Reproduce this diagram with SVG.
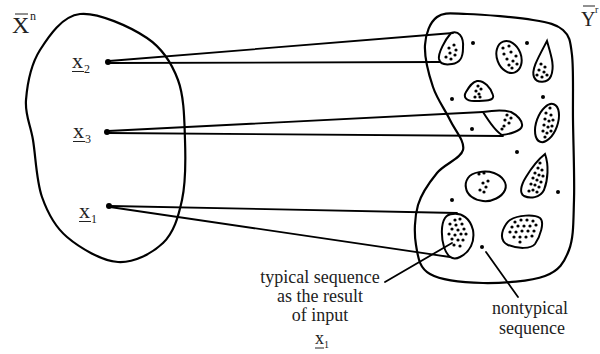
<svg xmlns="http://www.w3.org/2000/svg" width="600" height="354" viewBox="0 0 600 354">
<style>
.o{fill:none;stroke:#000;stroke-width:2.2;stroke-linejoin:round}
.b{fill:none;stroke:#000;stroke-width:2}
.c{stroke:#000;stroke-width:1.8;fill:none;stroke-linecap:round}
.t{font-family:"Liberation Serif","Times New Roman",serif;fill:#222}
.u{stroke:#222;stroke-width:1}
</style>
<rect width="600" height="354" fill="#fff"/>
<g id="set-X">
<path class="o" d="M80,14 C97.8,12 130.7,27 147,38 C163.3,49 171.7,63 178,80 C184.3,97 184.3,120 185,140 C185.7,160 185.7,182.8 182,200 C178.3,217.2 173.7,232.7 163,243 C152.3,253.3 134,263 118,262 C102,261 79.7,247.8 67,237 C54.3,226.2 47.7,213.2 42,197 C36.3,180.8 35.7,156.2 33,140 C30.3,123.8 24.8,115 26,100 C27.2,85 31,64.3 40,50 C49,35.7 62.2,16 80,14 Z"/>
<text class="t" x="12" y="33" font-size="24">X</text>
<line class="u" x1="15" y1="14" x2="28" y2="14"/>
<text class="t" x="30" y="20" font-size="12">n</text>
</g>
<g id="set-Y">
<path class="o" d="M437,17 C444,11.8 451,13.5 467,14 C483,14.5 517,17.3 533,20 C549,22.7 556.5,24.2 563,30 C569.5,35.8 570.3,40 572,55 C573.7,70 572.7,95.8 573,120 C573.3,144.2 574.7,178.3 574,200 C573.3,221.7 573.8,237.3 569,250 C564.2,262.7 559.3,270.5 545,276 C530.7,281.5 502.2,283.3 483,283 C463.8,282.7 441.2,280.3 430,274 C418.8,267.7 418,256.5 416,245 C414,233.5 414.5,217 418,205 C421.5,193 429.5,182.2 437,173 C444.5,163.8 460.8,158.8 463,150 C465.2,141.2 455,130.5 450,120 C445,109.5 437.2,99.5 433,87 C428.8,74.5 424.3,56.7 425,45 C425.7,33.3 430,22.2 437,17 Z"/>
<text class="t" x="581" y="26" font-size="20">Y</text>
<line class="u" x1="583" y1="6" x2="595" y2="6"/>
<text class="t" x="595" y="13" font-size="10">r</text>
</g>
<g id="blobs">
<path class="b" d="M451,33 C458,30 464,36 463,48 C463,58 460,63 452,64 C446,65 440,64 439,59 C438,53 445,40 451,33 Z"/>
<ellipse class="b" cx="509" cy="57" rx="12" ry="16.5" transform="rotate(-21 509 57)"/>
<path class="b" d="M547,41 C551,55 555,66 551,76 C548,83 537,84 534,77 C531,70 538,58 547,41 Z"/>
<path class="b" d="M477,81 C484,80 491,88 493,95 C495,101 485,101 474,101 C466,101 463,97 466,92 C469,87 472,82 477,81 Z"/>
<path class="b" d="M483,112 C495,110 505,110 511,112 C517,115 523,121 522,126 C521,131 510,134 502,135 C495,131 488,120 483,112 Z"/>
<ellipse class="b" cx="547" cy="123" rx="10.5" ry="20" transform="rotate(20 547 123)"/>
<path class="b" d="M545,154 C549,165 548,180 544,190 C540,198 530,199 524,196 C519,193 521,185 526,177 C532,167 540,158 545,154 Z"/>
<path class="b" d="M468,178 C472,172 485,170 494,173 C502,176 508,183 505,190 C502,197 492,202 483,201 C474,200 467,195 466,188 C465,184 466,181 468,178 Z"/>
<path class="b" d="M453,214 C462,213 470,218 473,230 C475,242 470,252 460,257 C452,261 447,256 444,247 C441,237 441,224 445,218 C447,215 450,214 453,214 Z"/>
<path class="b" d="M510,220 C518,215 534,214 540,218 C545,222 540,237 535,244 C531,249 518,249 508,245 C502,242 501,236 503,230 C505,225 507,222 510,220 Z"/>
</g>
<g id="dots" fill="#000">
<g>
<circle cx="449" cy="48" r="1.6"/><circle cx="454" cy="45" r="1.6"/><circle cx="456" cy="50" r="1.6"/><circle cx="450" cy="53" r="1.6"/><circle cx="455" cy="55" r="1.6"/><circle cx="446" cy="57" r="1.6"/><circle cx="451" cy="59" r="1.6"/>
</g>
<g>
<circle cx="503" cy="48" r="1.6"/><circle cx="509" cy="46" r="1.6"/><circle cx="504" cy="54" r="1.6"/><circle cx="511" cy="52" r="1.6"/><circle cx="516" cy="56" r="1.6"/><circle cx="507" cy="59" r="1.6"/><circle cx="513" cy="61" r="1.6"/><circle cx="509" cy="65" r="1.6"/><circle cx="517" cy="64" r="1.6"/><circle cx="512" cy="68" r="1.6"/>
</g>
<g>
<circle cx="541" cy="64" r="1.6"/><circle cx="545" cy="67" r="1.6"/><circle cx="539" cy="70" r="1.6"/><circle cx="544" cy="72" r="1.6"/><circle cx="537" cy="75" r="1.6"/><circle cx="542" cy="77" r="1.6"/><circle cx="547" cy="75" r="1.6"/>
</g>
<g>
<circle cx="478" cy="86" r="1.6"/><circle cx="481" cy="89" r="1.6"/><circle cx="476" cy="91" r="1.6"/><circle cx="479" cy="94" r="1.6"/><circle cx="475" cy="97" r="1.6"/><circle cx="480" cy="97" r="1.6"/>
</g>
<g>
<circle cx="507" cy="115" r="1.6"/><circle cx="511" cy="118" r="1.6"/><circle cx="505" cy="120" r="1.6"/><circle cx="509" cy="123" r="1.6"/><circle cx="504" cy="126" r="1.6"/><circle cx="502" cy="129" r="1.6"/>
</g>
<g>
<circle cx="550" cy="108" r="1.6"/><circle cx="546" cy="113" r="1.6"/><circle cx="551" cy="115" r="1.6"/><circle cx="545" cy="119" r="1.6"/><circle cx="549" cy="121" r="1.6"/><circle cx="553" cy="120" r="1.6"/><circle cx="544" cy="125" r="1.6"/><circle cx="548" cy="127" r="1.6"/><circle cx="552" cy="126" r="1.6"/><circle cx="543" cy="131" r="1.6"/><circle cx="547" cy="133" r="1.6"/><circle cx="551" cy="131" r="1.6"/><circle cx="545" cy="137" r="1.6"/>
</g>
<g>
<circle cx="540" cy="163" r="1.6"/><circle cx="538" cy="168" r="1.6"/><circle cx="542" cy="170" r="1.6"/><circle cx="535" cy="173" r="1.6"/><circle cx="539" cy="175" r="1.6"/><circle cx="543" cy="176" r="1.6"/><circle cx="533" cy="178" r="1.6"/><circle cx="537" cy="180" r="1.6"/><circle cx="541" cy="182" r="1.6"/><circle cx="531" cy="184" r="1.6"/><circle cx="535" cy="185" r="1.6"/><circle cx="539" cy="187" r="1.6"/><circle cx="533" cy="190" r="1.6"/><circle cx="537" cy="192" r="1.6"/><circle cx="529" cy="191" r="1.6"/>
</g>
<g>
<circle cx="479" cy="174" r="1.6"/><circle cx="484" cy="173" r="1.6"/><circle cx="483" cy="183" r="1.6"/><circle cx="488" cy="181" r="1.6"/><circle cx="486" cy="187" r="1.6"/><circle cx="480" cy="190" r="1.6"/><circle cx="484" cy="192" r="1.6"/>
</g>
<g>
<circle cx="455" cy="220" r="1.6"/><circle cx="460" cy="219" r="1.6"/><circle cx="450" cy="224" r="1.6"/><circle cx="456" cy="225" r="1.6"/><circle cx="462" cy="224" r="1.6"/><circle cx="452" cy="229" r="1.6"/><circle cx="458" cy="230" r="1.6"/><circle cx="464" cy="229" r="1.6"/><circle cx="449" cy="234" r="1.6"/><circle cx="455" cy="235" r="1.6"/><circle cx="461" cy="234" r="1.6"/><circle cx="466" cy="234" r="1.6"/><circle cx="452" cy="239" r="1.6"/><circle cx="458" cy="240" r="1.6"/><circle cx="463" cy="240" r="1.6"/><circle cx="454" cy="245" r="1.6"/><circle cx="460" cy="246" r="1.6"/>
</g>
<g>
<circle cx="515" cy="222" r="1.6"/><circle cx="521" cy="220" r="1.6"/><circle cx="527" cy="220" r="1.6"/><circle cx="533" cy="221" r="1.6"/><circle cx="512" cy="227" r="1.6"/><circle cx="518" cy="226" r="1.6"/><circle cx="524" cy="226" r="1.6"/><circle cx="530" cy="226" r="1.6"/><circle cx="536" cy="225" r="1.6"/><circle cx="510" cy="232" r="1.6"/><circle cx="516" cy="232" r="1.6"/><circle cx="522" cy="231" r="1.6"/><circle cx="528" cy="231" r="1.6"/><circle cx="534" cy="231" r="1.6"/><circle cx="514" cy="237" r="1.6"/><circle cx="520" cy="237" r="1.6"/><circle cx="526" cy="237" r="1.6"/><circle cx="532" cy="236" r="1.6"/><circle cx="520" cy="242" r="1.6"/>
</g>
<g id="outside-dots">
<circle cx="473" cy="43" r="2"/><circle cx="527" cy="43" r="2"/><circle cx="452" cy="99" r="2"/><circle cx="543" cy="97" r="2"/><circle cx="472" cy="129" r="2"/><circle cx="517" cy="152" r="2"/><circle cx="452" cy="200" r="2"/><circle cx="558" cy="192" r="2"/><circle cx="482" cy="247" r="2"/>
</g>
</g>
<g id="x2">
<circle cx="108" cy="62" r="3"/>
<text class="t" x="72" y="68" font-size="22">x</text>
<text class="t" x="84" y="73" font-size="12">2</text>
<line class="u" x1="72" y1="71.5" x2="84" y2="71.5"/>
</g>
<g id="x3">
<circle cx="107" cy="132" r="3"/>
<text class="t" x="73" y="138" font-size="22">x</text>
<text class="t" x="85" y="143" font-size="12">3</text>
<line class="u" x1="73" y1="141.5" x2="85" y2="141.5"/>
</g>
<g id="x1">
<circle cx="109" cy="206" r="3"/>
<text class="t" x="79" y="218" font-size="22">x</text>
<text class="t" x="91" y="223" font-size="12">1</text>
<line class="u" x1="79" y1="221.5" x2="91" y2="221.5"/>
</g>
<g id="connectors">
<line class="c" x1="109" y1="61" x2="453" y2="33"/>
<line class="c" x1="109" y1="63" x2="440" y2="62"/>
<line class="c" x1="108" y1="131" x2="483" y2="112"/>
<line class="c" x1="108" y1="133" x2="503" y2="136"/>
<line class="c" x1="110" y1="206" x2="457" y2="213"/>
<line class="c" x1="110" y1="207" x2="450" y2="257"/>
<line class="c" x1="385" y1="282" x2="452" y2="243"/>
<line class="c" x1="486" y1="252" x2="518" y2="297"/>
</g>
<g id="label-typical">
<text class="t" font-size="18" text-anchor="middle"><tspan x="320" y="283">typical sequence</tspan><tspan x="320" y="302">as the result</tspan><tspan x="320" y="321">of input</tspan></text>
<text class="t" x="315" y="344" font-size="18">x</text>
<text class="t" x="324" y="348" font-size="10">1</text>
<line class="u" x1="315" y1="348" x2="324" y2="348"/>
</g>
<g id="label-nontypical">
<text class="t" font-size="18" text-anchor="middle"><tspan x="530" y="314">nontypical</tspan><tspan x="532" y="334">sequence</tspan></text>
</g>
</svg>
